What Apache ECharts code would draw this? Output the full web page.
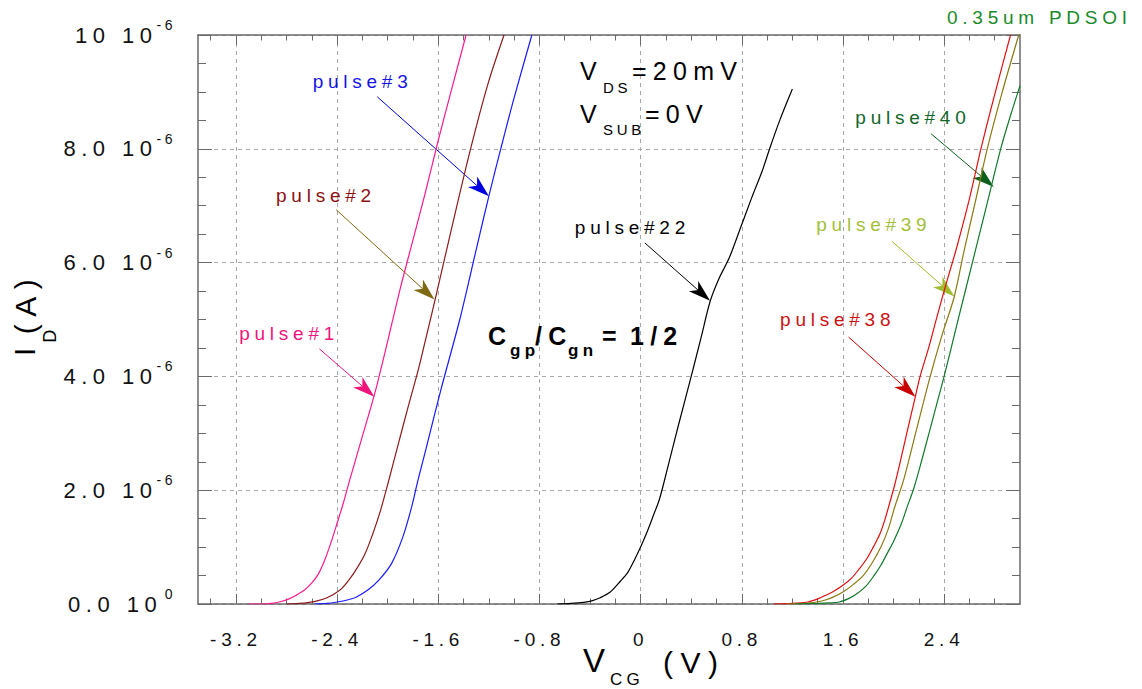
<!DOCTYPE html>
<html>
<head>
<meta charset="utf-8">
<title>I_D - V_CG, 0.35um PDSOI</title>
<script src="https://cdn.jsdelivr.net/npm/echarts@6.0.0/dist/echarts.min.js"></script>
<style>
  html, body { margin: 0; padding: 0; background: #fff; }
  #main { width: 1142px; height: 689px; }
  /* the plotting program spreads its letters out */
  #main text { letter-spacing: 0.25em; }
</style>
</head>
<body>
<div id="main"></div>
<script>
// gate voltage V_CG (V) and drain current I_D (in 10^-6 A)
const vg1 = [-3.10, -3.00, -2.92, -2.85, -2.78, -2.72, -2.66, -2.60, -2.55, -2.50, -2.45, -2.40, -2.35, -2.30, -2.20, -2.10, -2.00, -1.90, -1.80, -1.70, -1.60, -1.50, -1.38];
const id1 = [0.00, 0.00, 0.01, 0.04, 0.09, 0.16, 0.24, 0.37, 0.52, 0.76, 1.07, 1.42, 1.78, 2.18, 2.95, 3.72, 4.62, 5.55, 6.40, 7.25, 8.15, 9.00, 10.0];

const vg2 = [-2.80, -2.70, -2.62, -2.55, -2.48, -2.42, -2.36, -2.30, -2.24, -2.18, -2.12, -2.06, -2.00, -1.92, -1.84, -1.76, -1.70, -1.63, -1.50, -1.35, -1.21, -1.08];
const id2 = [0.00, 0.01, 0.03, 0.06, 0.11, 0.18, 0.28, 0.44, 0.64, 0.88, 1.22, 1.62, 2.10, 2.78, 3.45, 4.10, 4.65, 5.30, 6.55, 7.95, 9.12, 10.0];

const vg3 = [-2.58, -2.48, -2.40, -2.32, -2.25, -2.16, -2.07, -1.97, -1.88, -1.81, -1.76, -1.70, -1.58, -1.43, -1.30, -1.20, -1.10, -1.00, -0.86];
const id3 = [0.00, 0.01, 0.035, 0.07, 0.12, 0.24, 0.42, 0.71, 1.18, 1.71, 2.18, 2.70, 3.76, 5.00, 6.23, 7.17, 8.05, 8.90, 10.0];

const vg22 = [-0.66, -0.55, -0.45, -0.38, -0.32, -0.24, -0.16, -0.10, -0.05, 0.00, 0.05, 0.10, 0.15, 0.22, 0.30, 0.40, 0.48, 0.55, 0.62, 0.70, 0.78, 0.88, 0.96, 1.02, 1.10, 1.20];
const id22 = [0.00, 0.01, 0.03, 0.06, 0.11, 0.21, 0.40, 0.56, 0.77, 1.00, 1.26, 1.55, 1.85, 2.45, 3.15, 4.00, 4.70, 5.32, 5.72, 6.08, 6.55, 7.15, 7.60, 8.00, 8.50, 9.05];

const vg38 = [1.05, 1.20, 1.32, 1.40, 1.46, 1.53, 1.60, 1.67, 1.73, 1.79, 1.84, 1.89, 1.93, 1.97, 2.01, 2.05, 2.11, 2.17, 2.21, 2.28, 2.34, 2.41, 2.50, 2.60, 2.69, 2.79, 2.925];
const id38 = [0.00, 0.01, 0.035, 0.09, 0.15, 0.23, 0.33, 0.46, 0.62, 0.80, 1.00, 1.22, 1.47, 1.78, 2.10, 2.47, 3.05, 3.62, 4.00, 4.52, 5.02, 5.58, 6.27, 7.12, 7.99, 8.87, 10.0];

const vg39 = [1.15, 1.30, 1.40, 1.46, 1.53, 1.60, 1.68, 1.76, 1.83, 1.90, 1.96, 2.01, 2.08, 2.18, 2.29, 2.38, 2.48, 2.56, 2.65, 2.74, 2.86, 2.99];
const id39 = [0.00, 0.01, 0.04, 0.07, 0.13, 0.21, 0.34, 0.50, 0.72, 1.00, 1.33, 1.71, 2.18, 3.05, 4.00, 4.70, 5.40, 6.23, 7.10, 7.99, 9.00, 10.0];

const vg40 = [1.22, 1.40, 1.50, 1.57, 1.64, 1.71, 1.78, 1.84, 1.90, 1.95, 2.00, 2.06, 2.11, 2.16, 2.22, 2.28, 2.34, 2.40, 2.50, 2.62, 2.73, 2.85, 2.93, 3.00];
const id40 = [0.00, 0.01, 0.02, 0.035, 0.09, 0.18, 0.31, 0.48, 0.68, 0.89, 1.10, 1.40, 1.72, 2.03, 2.50, 3.00, 3.50, 4.00, 4.90, 5.97, 6.95, 8.02, 8.62, 9.11];

const xTickValues = [-3.2, -2.4, -1.6, -0.8, 0, 0.8, 1.6, 2.4];
const xTickLabels = ['-3.2', '-2.4', '-1.6', '-0.8', '0', '0.8', '1.6', '2.4'];
const xMinorTicks = [-3.4, -3.0, -2.8, -2.6, -2.2, -2.0, -1.8, -1.4, -1.2, -1.0, -0.6, -0.4, -0.2, 0.2, 0.4, 0.6, 1.0, 1.2, 1.4, 1.8, 2.0, 2.2, 2.6, 2.8];
const yTickValues = [0, 2, 4, 6, 8, 10];
const yTickMant = ['0.0', '2.0', '4.0', '6.0', '8.0', '10'];
const yTickExp = ['0', '-6', '-6', '-6', '-6', '-6'];

const FONT = "'Liberation Sans', Arial, Helvetica, sans-serif";
const FRAME = '#6a6a6a';

const curves = [
  { name: 'pulse#1', v: vg1, i: id1, color: '#ff1a8c' },
  { name: 'pulse#2', v: vg2, i: id2, color: '#8b1a1a' },
  { name: 'pulse#3', v: vg3, i: id3, color: '#1a1aff' },
  { name: 'pulse#22', v: vg22, i: id22, color: '#000000' },
  { name: 'pulse#38', v: vg38, i: id38, color: '#e01010' },
  { name: 'pulse#39', v: vg39, i: id39, color: '#8b7a14' },
  { name: 'pulse#40', v: vg40, i: id40, color: '#117a2a' },
];

// labels and arrows, anchored in data coordinates (V, 10^-6 A)
const notes = [
  { text: 'pulse#1', at: [-3.174, 4.748], from: [-2.540, 4.484], to: [-2.105, 3.644], color: '#f0147c', arrow: '#f0147c' },
  { text: 'pulse#2', at: [-2.883, 7.187], from: [-2.408, 6.931], to: [-1.630, 5.350], color: '#8b1111', arrow: '#7d6a12' },
  { text: 'pulse#3', at: [-2.593, 9.176], from: [-2.083, 8.915], to: [-1.199, 7.165], color: '#1414e6', arrow: '#0000e0' },
  { text: 'pulse#22', at: [-0.520, 6.614], from: [0.034, 6.345], to: [0.549, 5.330], color: '#000000', arrow: '#000000' },
  { text: 'pulse#38', at: [1.103, 4.995], from: [1.645, 4.690], to: [2.173, 3.644], color: '#cc1111', arrow: '#c80000' },
  { text: 'pulse#39', at: [1.389, 6.676], from: [1.988, 6.373], to: [2.481, 5.405], color: '#a3c03a', arrow: '#9dbd2c' },
  { text: 'pulse#40', at: [1.698, 8.551], from: [2.297, 8.264], to: [2.793, 7.330], color: '#11662a', arrow: '#0d5f1c' },
];

const myChart = echarts.init(document.getElementById('main'), null, { renderer: 'svg' });

function xAxisDef(position, ticks, len, withLine) {
  return {
    type: 'value',
    position: position,
    min: -3.5,
    max: 3.0,
    axisLine: { show: withLine, onZero: false, lineStyle: { color: FRAME, width: 1.5 } },
    axisTick: { show: true, inside: true, length: len, customValues: ticks, lineStyle: { color: FRAME, width: 1 } },
    axisLabel: { show: false },
    splitLine: { show: false },
  };
}

function yAxisDef(position) {
  return {
    type: 'value',
    position: position,
    min: 0,
    max: 10,
    interval: 2,
    axisLine: { show: true, onZero: false, lineStyle: { color: FRAME, width: 1.5 } },
    axisTick: { show: true, inside: true, length: 14, lineStyle: { color: FRAME, width: 1 } },
    minorTick: { show: true, splitNumber: 4, length: 8, lineStyle: { color: FRAME, width: 1 } },
    axisLabel: { show: false },
    splitLine: { show: false },
  };
}

const bottomX = xAxisDef('bottom', xTickValues, 10, true);
bottomX.axisLabel = {
  show: true,
  customValues: xTickValues,
  margin: 26,
  fontSize: 19,
  fontFamily: FONT,
  color: '#111',
  formatter: function (v) {
    const k = xTickValues.findIndex(t => Math.abs(t - v) < 1e-6);
    return k < 0 ? '' : xTickLabels[k];
  },
};
bottomX.splitLine = { show: true, lineStyle: { color: '#a8a8a8', width: 1, type: [4, 4] } };

const leftY = yAxisDef('left');
leftY.axisLabel = {
  show: true,
  margin: 22,
  formatter: function (v) {
    const k = yTickValues.indexOf(v);
    return '{m|' + yTickMant[k] + ' 10}{s|' + yTickExp[k] + '}';
  },
  rich: {
    m: { fontSize: 22, fontFamily: FONT, color: '#111', lineHeight: 34 },
    s: { fontSize: 14, fontFamily: FONT, color: '#111', lineHeight: 14, verticalAlign: 'top', padding: [0, 0, 0, 6] },
  },
};
leftY.splitLine = { show: true, lineStyle: { color: '#a8a8a8', width: 1, type: [4, 4] } };

const option = {
  animation: false,
  backgroundColor: '#ffffff',
  grid: { left: 198, right: 122, top: 35, bottom: 85, containLabel: false, outerBoundsMode: 'none' },
  xAxis: [
    bottomX,
    xAxisDef('bottom', xMinorTicks, 5.5, false),
    xAxisDef('top', xTickValues, 10, true),
    xAxisDef('top', xMinorTicks, 5.5, false),
  ],
  yAxis: [leftY, yAxisDef('right')],
  series: curves.map(c => ({
    name: c.name,
    type: 'line',
    xAxisIndex: 0,
    yAxisIndex: 0,
    data: c.v.map((v, k) => [v, c.i[k]]),
    showSymbol: false,
    smooth: 0.3,
    silent: true,
    lineStyle: { color: c.color, width: 1.2 },
    itemStyle: { color: c.color },
  })),
};

option && myChart.setOption(option);

// ---- annotations ----
function px(p) {
  return myChart.convertToPixel({ xAxisIndex: 0, yAxisIndex: 0 }, p);
}

function txt(text, x, y, size, color, weight, rotation) {
  return {
    type: 'text',
    x: x,
    y: y,
    rotation: rotation || 0,
    silent: true,
    style: {
      text: text,
      fill: color || '#000',
      font: (weight || 'normal') + ' ' + size + 'px ' + FONT,
      align: rotation ? 'center' : 'left',
      verticalAlign: 'middle',
    },
  };
}

function arrow(from, to, color) {
  const a = px(from);
  const b = px(to);
  const len = Math.hypot(b[0] - a[0], b[1] - a[1]);
  const ux = (b[0] - a[0]) / len, uy = (b[1] - a[1]) / len;
  const L = 22, W = 7, N = 6;
  const bx = b[0] - ux * L, by = b[1] - uy * L;
  const nx = b[0] - ux * (L - N), ny = b[1] - uy * (L - N);
  return [
    { type: 'line', silent: true, shape: { x1: a[0], y1: a[1], x2: nx, y2: ny }, style: { stroke: color, lineWidth: 1 } },
    { type: 'polygon', silent: true, shape: { points: [[b[0], b[1]], [bx - uy * W, by + ux * W], [nx, ny], [bx + uy * W, by - ux * W]] }, style: { fill: color } },
  ];
}

const graphic = [];
notes.forEach(n => {
  const p = px(n.at);
  graphic.push(txt(n.text, p[0], p[1], 19, n.color));
  arrow(n.from, n.to, n.arrow).forEach(g => graphic.push(g));
});

graphic.push(
  txt('0.35um PDSOI', 947, 17.5, 19, '#1a8a2a'),
  txt('V', 580, 71, 25), txt('DS', 603, 87.5, 15), txt('=20mV', 632, 71, 25),
  txt('V', 580, 114, 25), txt('SUB', 603, 129, 15), txt('=0V', 645, 114, 25),
  txt('C', 488, 336, 25, '#000', 'bold'), txt('gp', 510, 350, 17, '#000', 'bold'),
  txt('/C', 535, 336, 25, '#000', 'bold'), txt('gn', 568, 350, 17, '#000', 'bold'),
  txt('=', 602, 336, 25, '#000', 'bold'), txt('1/2', 630, 336, 25, '#000', 'bold'),
  // x axis title V_CG (V)
  txt('V', 583, 660, 33), txt('CG', 610, 679, 17), txt('(V)', 663, 662, 30),
  // y axis title I_D(A), reading upwards
  txt('I', 24, 348, 30, '#000', 'normal', Math.PI / 2),
  txt('D', 49.5, 334, 18, '#000', 'normal', Math.PI / 2),
  txt('(A)', 25, 303, 30, '#000', 'normal', Math.PI / 2)
);

myChart.setOption({ graphic: graphic });
</script>
</body>
</html>
